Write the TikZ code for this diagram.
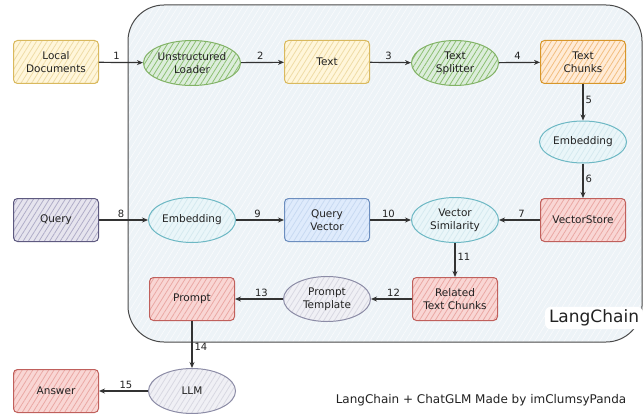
\documentclass[tikz,border=0pt]{standalone}
\usepackage{fontspec}
\setmainfont{DejaVu Sans}
\usetikzlibrary{patterns.meta,arrows.meta,shapes.geometric}
\definecolor{yfill}{HTML}{FFF6DA}\definecolor{ydraw}{HTML}{D9B95E}\definecolor{yhatch}{HTML}{EFDCA6}
\definecolor{gfill}{HTML}{DCEDDB}\definecolor{gdraw}{HTML}{82B366}\definecolor{ghatch}{HTML}{8CBF72}
\definecolor{ofill}{HTML}{FFEBD6}\definecolor{odraw}{HTML}{D7962A}\definecolor{ohatch}{HTML}{F2BE80}
\definecolor{tfill}{HTML}{EAF6F9}\definecolor{tdraw}{HTML}{6DB8C4}\definecolor{thatch}{HTML}{D6EAF0}
\definecolor{bfill}{HTML}{DFEBFC}\definecolor{bdraw}{HTML}{6C8EBF}\definecolor{bhatch}{HTML}{C8DAF2}
\definecolor{pfill}{HTML}{E6E4EE}\definecolor{pdraw}{HTML}{5E5A80}\definecolor{phatch}{HTML}{B0ADC8}
\definecolor{rfill}{HTML}{F9D6D4}\definecolor{rdraw}{HTML}{C0605C}\definecolor{rhatch}{HTML}{EAA8A4}
\definecolor{lfill}{HTML}{F0F0F5}\definecolor{ldraw}{HTML}{8C8CA6}\definecolor{lhatch}{HTML}{D8D8E2}
\definecolor{bgfill}{HTML}{EDF3F7}\definecolor{bgdraw}{HTML}{4A4A4A}
\definecolor{ink}{HTML}{222222}
\begin{document}
\begin{tikzpicture}[x=1pt,y=-1pt,
  hatch/.style n args={3}{preaction={fill=#1}, pattern={Lines[angle=58,distance=4.5pt,line width=0.8pt]}, pattern color=#3, draw=#2},
  boxnode/.style={rectangle, rounded corners=4pt, minimum width=85pt, minimum height=43pt, line width=1pt, align=center, text=ink, font=\fontsize{10.5}{13}\selectfont},
  ovalnode/.style={ellipse, minimum width=87pt, minimum height=45pt, inner sep=0pt, line width=1pt, align=center, text=ink, font=\fontsize{10.5}{13}\selectfont},
  arr/.style={-{Stealth[length=6pt,width=5pt]}, line width=1.2pt, draw=black!80},
  lab/.style={font=\fontsize{10}{11}\selectfont, text=ink, inner sep=2pt}
]
\useasboundingbox (0,0) rectangle (644,414);
% LangChain container
\path[preaction={fill=bgfill}, pattern={Lines[angle=58,distance=5pt,line width=0.6pt]}, pattern color=white!70!bgfill, draw=bgdraw, line width=1pt, rounded corners=36pt] (128,5) rectangle (642,342);

% row 1
\node[boxnode, hatch={yfill}{ydraw}{yhatch}] (local) at (56,62) {Local\\Documents};
\node[ovalnode, hatch={gfill}{gdraw}{ghatch}] (loader) at (192,63) {Unstructured\\Loader};
\node[boxnode, hatch={yfill}{ydraw}{yhatch}] (text) at (327,62) {Text};
\node[ovalnode, hatch={gfill}{gdraw}{ghatch}] (splitter) at (455,63) {Text\\Splitter};
\node[boxnode, hatch={ofill}{odraw}{ohatch}] (chunks) at (583,62) {Text\\Chunks};
\node[ovalnode, minimum height=42pt, hatch={tfill}{tdraw}{thatch}] (emb1) at (583,142) {Embedding};

% row 2
\node[boxnode, hatch={pfill}{pdraw}{phatch}] (query) at (56,220) {Query};
\node[ovalnode, hatch={tfill}{tdraw}{thatch}] (emb2) at (192,220) {Embedding};
\node[boxnode, hatch={bfill}{bdraw}{bhatch}] (qvec) at (327,220) {Query\\Vector};
\node[ovalnode, hatch={tfill}{tdraw}{thatch}] (vsim) at (455,220) {Vector\\Similarity};
\node[boxnode, hatch={rfill}{rdraw}{rhatch}] (vstore) at (583,220) {VectorStore};

% row 3
\node[boxnode, hatch={rfill}{rdraw}{rhatch}] (prompt) at (192,299) {Prompt};
\node[ovalnode, hatch={lfill}{ldraw}{lhatch}] (ptemp) at (327,299) {Prompt\\Template};
\node[boxnode, hatch={rfill}{rdraw}{rhatch}] (related) at (455,299) {Related\\Text Chunks};

% row 4
\node[boxnode, hatch={rfill}{rdraw}{rhatch}] (answer) at (56,391) {Answer};
\node[ovalnode, hatch={lfill}{ldraw}{lhatch}] (llm) at (192,391) {LLM};

% LangChain label
\node[fill=white, rounded corners=6pt, inner xsep=4pt, inner ysep=3pt, font=\fontsize{17}{19}\selectfont, text=ink] (lc) at (594,318) {LangChain};

% footer
\node[font=\fontsize{12}{14}\selectfont, text=ink] (footer) at (481,400) {LangChain + ChatGLM Made by imClumsyPanda};

% connectors
\draw[arr] (local) -- node[lab, above, pos=0.4] {1} (loader);
\draw[arr] (loader) -- node[lab, above, pos=0.45] {2} (text);
\draw[arr] (text) -- node[lab, above, pos=0.45] {3} (splitter);
\draw[arr] (splitter) -- node[lab, above, pos=0.45] {4} (chunks);
\draw[arr] (chunks) -- node[lab, right, pos=0.45] {5} (emb1);
\draw[arr] (emb1) -- node[lab, right, pos=0.45] {6} (vstore);
\draw[arr] (vstore) -- node[lab, above, pos=0.45] {7} (vsim);
\draw[arr] (query) -- node[lab, above, pos=0.45] {8} (emb2);
\draw[arr] (emb2) -- node[lab, above, pos=0.45] {9} (qvec);
\draw[arr] (qvec) -- node[lab, above, pos=0.45] {10} (vsim);
\draw[arr] (vsim) -- node[lab, right, pos=0.4] {11} (related);
\draw[arr] (related) -- node[lab, above, pos=0.45] {12} (ptemp);
\draw[arr] (ptemp) -- node[lab, above, pos=0.45] {13} (prompt);
\draw[arr] (prompt) -- node[lab, right, pos=0.55] {14} (llm);
\draw[arr] (llm) -- node[lab, above, pos=0.45] {15} (answer);
\end{tikzpicture}
\end{document}
